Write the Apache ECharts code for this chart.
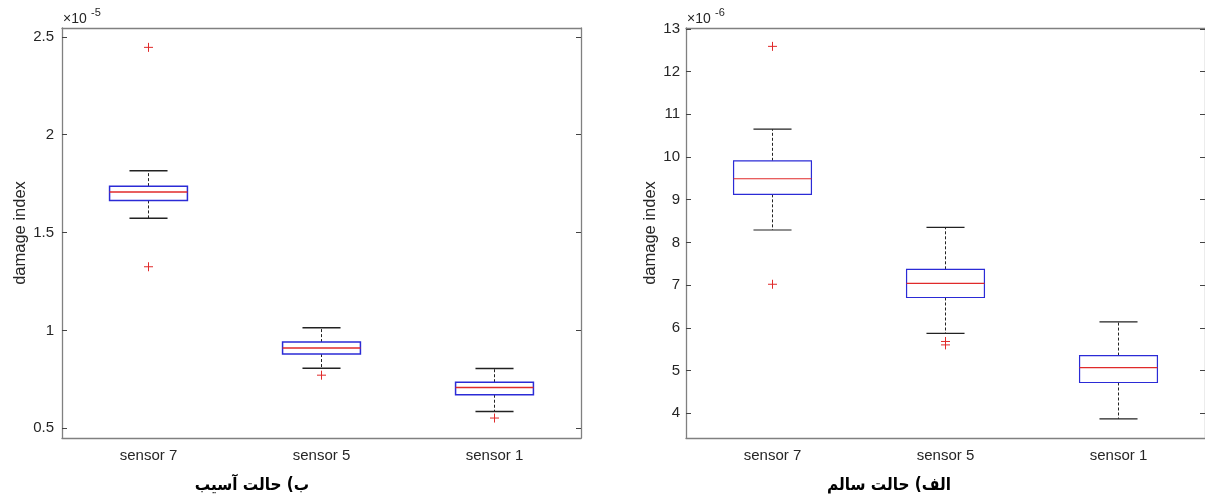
<!DOCTYPE html>
<html>
<head>
<meta charset="utf-8">
<script src="https://cdn.jsdelivr.net/npm/echarts@6/dist/echarts.min.js"></script>
<style>
  html, body { margin: 0; padding: 0; background: #fff; }
  #chart { width: 1205px; height: 501px; }
</style>
</head>
<body>
<div id="chart"></div>
<script>
// Sensor categories shared by both panels
const categories = ['sensor 7', 'sensor 5', 'sensor 1'];

// Damaged state, values in units of 1e-5: [lower whisker, Q1, median, Q3, upper whisker]
const damagedStats = [
  [1.573, 1.664, 1.707, 1.737, 1.815],
  [0.806, 0.879, 0.910, 0.940, 1.013],
  [0.585, 0.671, 0.708, 0.735, 0.805]
];
// Damaged state outliers: [category index, value]
const damagedOutliers = [[0, 2.446], [0, 1.325], [1, 0.771], [2, 0.552]];
const damagedTicks = [0.5, 1, 1.5, 2, 2.5];

// Healthy state, values in units of 1e-6
const healthyStats = [
  [8.29, 9.125, 9.49, 9.91, 10.65],
  [5.87, 6.71, 7.04, 7.37, 8.35],
  [3.87, 4.72, 5.07, 5.35, 6.14]
];
const healthyOutliers = [[0, 12.59], [0, 7.02], [1, 5.68], [1, 5.60]];
const healthyTicks = [4, 5, 6, 7, 8, 9, 10, 11, 12, 13];

const AXIS_COLOR = '#808080';
const TEXT_COLOR = '#262626';
const BOX_COLOR = '#2b2bd6';
const MED_COLOR = '#e02a2a';
const WHISKER_COLOR = '#222';
const FONT = '"Liberation Sans", Arial, sans-serif';
const CAPTION_FONT = '"DejaVu Sans Condensed", "DejaVu Sans", sans-serif';

function boxRenderer(lw) {
  return function (params, api) {
    const c = api.value(0);
    const band = api.size([1, 0])[0];
    const half = band * 0.225;
    const capHalf = band * 0.11;
    const pLo = api.coord([c, api.value(1)]);
    const pQ1 = api.coord([c, api.value(2)]);
    const pMed = api.coord([c, api.value(3)]);
    const pQ3 = api.coord([c, api.value(4)]);
    const pHi = api.coord([c, api.value(5)]);
    const x = pMed[0];
    return {
      type: 'group',
      children: [
        { type: 'line', shape: { x1: x, y1: pQ3[1], x2: x, y2: pHi[1] },
          style: { stroke: WHISKER_COLOR, lineWidth: 1, lineDash: [3, 2] } },
        { type: 'line', shape: { x1: x, y1: pQ1[1], x2: x, y2: pLo[1] },
          style: { stroke: WHISKER_COLOR, lineWidth: 1, lineDash: [3, 2] } },
        { type: 'line', shape: { x1: x - capHalf, y1: pHi[1], x2: x + capHalf, y2: pHi[1] },
          style: { stroke: WHISKER_COLOR, lineWidth: lw } },
        { type: 'line', shape: { x1: x - capHalf, y1: pLo[1], x2: x + capHalf, y2: pLo[1] },
          style: { stroke: WHISKER_COLOR, lineWidth: lw } },
        { type: 'rect', shape: { x: x - half, y: pQ3[1], width: half * 2, height: pQ1[1] - pQ3[1] },
          style: { fill: '#fff', stroke: BOX_COLOR, lineWidth: lw } },
        { type: 'line', shape: { x1: x - half, y1: pMed[1], x2: x + half, y2: pMed[1] },
          style: { stroke: MED_COLOR, lineWidth: lw } }
      ]
    };
  };
}

function plusRenderer(params, api) {
  const p = api.coord([api.value(0), api.value(1)]);
  const s = 4.5;
  return {
    type: 'group',
    children: [
      { type: 'line', shape: { x1: p[0] - s, y1: p[1], x2: p[0] + s, y2: p[1] },
        style: { stroke: MED_COLOR, lineWidth: 1 } },
      { type: 'line', shape: { x1: p[0], y1: p[1] - s, x2: p[0], y2: p[1] + s },
        style: { stroke: MED_COLOR, lineWidth: 1 } }
    ]
  };
}

function xAxes(gridIndex) {
  const common = {
    gridIndex: gridIndex,
    type: 'category',
    data: categories,
    axisLine: { lineStyle: { color: AXIS_COLOR, width: 1.3 } },
    axisTick: { inside: true, alignWithLabel: true, length: 5, lineStyle: { color: '#444' } },
    splitLine: { show: false }
  };
  return [
    Object.assign({}, common, { position: 'bottom',
      axisLabel: { margin: 10, fontSize: 15, color: TEXT_COLOR, fontFamily: FONT } }),
    Object.assign({}, common, { position: 'top', axisLabel: { show: false } })
  ];
}

function yAxes(gridIndex, min, max, ticks, nameGap, labelMargin) {
  const common = {
    gridIndex: gridIndex,
    type: 'value',
    min: min,
    max: max,
    axisLine: { show: true, lineStyle: { color: AXIS_COLOR, width: 1.3 } },
    axisTick: { show: true, inside: true, length: 5, customValues: ticks, lineStyle: { color: '#444' } },
    splitLine: { show: false }
  };
  return [
    Object.assign({}, common, {
      position: 'left',
      name: 'damage index',
      nameLocation: 'middle',
      nameGap: nameGap,
      nameTextStyle: { fontSize: 16.5, color: TEXT_COLOR, fontFamily: FONT },
      axisLabel: { customValues: ticks, margin: labelMargin, fontSize: 15, color: TEXT_COLOR, fontFamily: FONT }
    }),
    Object.assign({}, common, { position: 'right', axisLabel: { show: false } })
  ];
}

function toRows(stats) {
  return stats.map((s, i) => [i].concat(s));
}

function exponentMark(x, exp) {
  return [
    { type: 'text', left: x, top: 12, style: { text: '×10', fontSize: 14, fill: TEXT_COLOR, fontFamily: FONT } },
    { type: 'text', left: x + 28, top: 7, style: { text: exp, fontSize: 11, fill: TEXT_COLOR, fontFamily: FONT } }
  ];
}

const chart = echarts.init(document.getElementById('chart'), null, { renderer: 'canvas' });

chart.setOption({
  backgroundColor: '#fff',
  animation: false,
  grid: [
    { left: 62, top: 28, width: 519, height: 410 },
    { left: 686, top: 28, width: 520, height: 410 }
  ],
  xAxis: xAxes(0).concat(xAxes(1)),
  yAxis: yAxes(0, 0.45, 2.545, damagedTicks, 28, 8).concat(yAxes(1, 3.42, 13.02, healthyTicks, 25, 6)),
  series: [
    { type: 'custom', xAxisIndex: 0, yAxisIndex: 0, renderItem: boxRenderer(1.5),
      encode: { x: 0, y: [1, 2, 3, 4, 5] }, data: toRows(damagedStats) },
    { type: 'custom', xAxisIndex: 0, yAxisIndex: 0, renderItem: plusRenderer,
      encode: { x: 0, y: 1 }, data: damagedOutliers },
    { type: 'custom', xAxisIndex: 2, yAxisIndex: 2, renderItem: boxRenderer(1.2),
      encode: { x: 0, y: [1, 2, 3, 4, 5] }, data: toRows(healthyStats) },
    { type: 'custom', xAxisIndex: 2, yAxisIndex: 2, renderItem: plusRenderer,
      encode: { x: 0, y: 1 }, data: healthyOutliers }
  ],
  graphic: exponentMark(63, '-5').concat(exponentMark(687, '-6')).concat([
    // panel captions
    { type: 'text', x: 252, y: 486, style: { text: 'ب) حالت آسیب', fontSize: 17, fontWeight: 'bold',
      fill: '#000', fontFamily: CAPTION_FONT, align: 'center', verticalAlign: 'middle' } },
    { type: 'text', x: 889, y: 486, style: { text: 'الف) حالت سالم', fontSize: 17, fontWeight: 'bold',
      fill: '#000', fontFamily: CAPTION_FONT, align: 'center', verticalAlign: 'middle' } }
  ])
});
</script>
</body>
</html>
